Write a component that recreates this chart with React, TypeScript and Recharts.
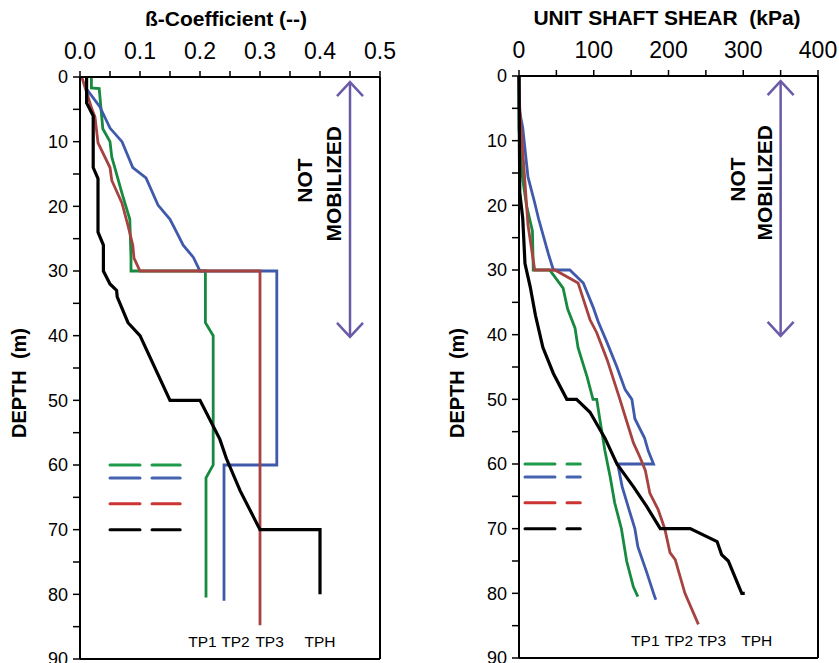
import React from "react";
import {
  LineChart,
  Line,
  XAxis,
  YAxis,
  CartesianGrid,
  ReferenceLine,
  ReferenceDot,
} from "recharts";

type Pt = { d: number; v: number };
const pts = (rows: number[][]): Pt[] => rows.map(([d, v]) => ({ d, v }));

// [depth m, beta]
const tp1Beta = [[0, 0.019], [1.7, 0.019], [1.8, 0.032], [8, 0.038], [10, 0.05], [12.4, 0.053], [14, 0.058], [18, 0.07], [22, 0.083], [28, 0.085], [30, 0.085], [30, 0.209], [38, 0.209], [40, 0.222], [60, 0.222], [62, 0.21], [80.5, 0.21]];
const tp2Beta = [[2, 0.012], [4.6, 0.033], [7.9, 0.05], [10, 0.07], [14, 0.088], [15.6, 0.11], [19.8, 0.13], [22, 0.15], [24, 0.161], [26, 0.172], [27.9, 0.189], [30, 0.2], [30, 0.328], [60, 0.328], [60, 0.24], [81, 0.24]];
const tp3Beta = [[0, 0.003], [5, 0.02], [6.2, 0.025], [10.2, 0.03], [14, 0.05], [16, 0.053], [19.5, 0.07], [23, 0.08], [26, 0.088], [28, 0.09], [30, 0.1], [30, 0.3], [84.8, 0.3]];
const tphBeta = [[0, 0.011], [4, 0.011], [6, 0.022], [14, 0.022], [15.7, 0.03], [24, 0.03], [26, 0.039], [30, 0.039], [32, 0.05], [33, 0.061], [34, 0.062], [38, 0.08], [40, 0.1], [50, 0.15], [50, 0.2], [56, 0.233], [59, 0.244], [64, 0.267], [70, 0.3], [70, 0.4], [80, 0.4]];

// [depth m, unit shaft shear kPa]
const tp1Shear = [[0, 0], [8, 0], [12, 2], [16, 5], [20, 10], [24, 18], [29.5, 19], [30, 19], [30, 41], [32.8, 59], [36, 65], [39, 75], [42, 79], [46.5, 91], [50, 99], [50, 104], [53, 108], [58, 115], [62, 122], [66, 128], [70, 137], [75, 144], [79, 153], [80.5, 159]];
const tp2Shear = [[0, 0], [5, 0], [8, 5], [15.6, 12], [19.6, 21], [22, 26], [27.4, 39], [30, 46], [30, 68], [32, 86], [35.7, 99], [38, 106], [41, 117], [45, 131], [48.5, 142], [50, 151], [53, 155], [56, 168], [58, 173], [60, 180], [60, 132], [63.5, 138], [66.6, 146], [70, 155], [72.8, 159], [76.8, 171], [80, 180], [81, 183]];
const tp3Shear = [[0, 0], [5, 1], [10, 4], [23, 12], [30, 21], [30, 48], [32, 79], [37.7, 95], [39.7, 104], [43.9, 118], [50, 135], [53, 143], [56.7, 153], [59, 162], [61, 169], [64.5, 175], [67, 186], [70, 195], [73.7, 202], [74.8, 209], [80, 222], [84.8, 240]];
const tphShear = [[0, 0], [18, 1], [22, 5], [29, 8], [32.6, 15], [37, 22], [42, 32], [46, 46], [50, 64], [50, 77], [52, 95], [56, 115], [60, 131], [63.5, 153], [66.6, 171], [70, 189], [70, 229], [72, 265], [74, 271], [75, 280], [80, 298], [80, 302]];

const depthTicks = [0, 5, 10, 15, 20, 25, 30, 35, 40, 45, 50, 55, 60, 65, 70, 75, 80, 85, 90];
const depthGrid = [10, 20, 30, 40, 50, 60, 70, 80];
const betaTicks = [0, 0.05, 0.1, 0.15, 0.2, 0.25, 0.3, 0.35, 0.4, 0.45, 0.5];
const betaGrid = [0.1, 0.2, 0.3, 0.4];
const shearTicks = [0, 50, 100, 150, 200, 250, 300, 350, 400];
const shearGrid = [100, 200, 300];

const seriesNames = ["TP1", "TP2", "TP3", "TPH"];
const lineColors = ["#178a40", "#3f5aab", "#a64340", "#000000"];
const keyColors = ["#1f9a4a", "#4563b0", "#cc3333", "#000000"];
const keyDepths = [60, 62, 66, 70];

// name tag positions [value, depth] per panel
const betaTags = [[0.204, 87.3], [0.259, 87.3], [0.316, 87.3], [0.4, 87.3]];
const shearTags = [[169, 87.3], [214, 87.3], [258, 87.3], [318, 87.3]];

type PanelProps = {
  series: number[][][];
  max: number;
  ticks: number[];
  grid: number[];
  fmt: (v: number) => string;
  keyRange: number[];
  arrowAt: number;
  notAt: number;
  mobAt: number;
  tags: number[][];
  width: number;
  marginTop: number;
  marginRight: number;
  marginBottom: number;
  yWidth: number;
};

const arrowHead = (props: any) => {
  const { cx, cy, index } = props;
  const dir = index === 0 ? 1 : -1;
  return (
    <path
      key={`ah-${index}`}
      d={`M${cx - 13},${cy + 14 * dir} L${cx},${cy} L${cx + 13},${cy + 14 * dir}`}
      fill="none"
      stroke="#6a5aa8"
      strokeWidth={2.5}
    />
  );
};

const Panel = (p: PanelProps) => {
  const lines = p.series.map(pts);
  const arrow = pts([[0.8, p.arrowAt], [40.2, p.arrowAt]]);
  return (
    <LineChart
      width={p.width}
      height={663}
      layout="vertical"
      margin={{ top: p.marginTop, right: p.marginRight, bottom: p.marginBottom, left: 0 }}
    >
      <XAxis xAxisId="g" type="number" domain={[0, p.max]} ticks={p.grid} hide />
      <YAxis yAxisId="g" type="number" domain={[0, 90]} ticks={depthGrid} hide />
      <CartesianGrid xAxisId="g" yAxisId="g" stroke="#c4c4c4" strokeWidth={1.5} />
      <XAxis
        type="number"
        orientation="top"
        domain={[0, p.max]}
        ticks={p.ticks}
        tickFormatter={p.fmt}
        height={30}
        tickSize={6}
        tickMargin={12}
        interval={0}
        axisLine={{ stroke: "#000", strokeWidth: 2 }}
        tickLine={{ stroke: "#000", strokeWidth: 1.5 }}
        tick={{ fill: "#000", fontSize: 23 }}
      />
      <YAxis
        type="number"
        dataKey="d"
        domain={[0, 90]}
        ticks={depthTicks}
        tickFormatter={(v: number) => (v % 10 === 0 ? String(v) : "")}
        width={p.yWidth}
        tickSize={7}
        tickMargin={5}
        interval={0}
        axisLine={{ stroke: "#000", strokeWidth: 2 }}
        tickLine={{ stroke: "#000", strokeWidth: 1.5 }}
        tick={{ fill: "#000", fontSize: 18 }}
      />
      <ReferenceLine x={p.max} stroke="#000" strokeWidth={2} />
      <ReferenceLine y={90} stroke="#000" strokeWidth={2} />
      {keyDepths.map((d, i) => (
        <Line
          key={`k${i}`}
          data={pts([[d, p.keyRange[0]], [d, p.keyRange[1]]])}
          dataKey="v"
          stroke={keyColors[i]}
          strokeWidth={3}
          strokeDasharray="30 12"
          strokeLinecap="round"
          dot={false}
          isAnimationActive={false}
        />
      ))}
      {lines.map((data, i) => (
        <Line
          key={seriesNames[i]}
          name={seriesNames[i]}
          data={data}
          dataKey="v"
          stroke={lineColors[i]}
          strokeWidth={i === 3 ? 3.2 : 2.8}
          dot={false}
          isAnimationActive={false}
        />
      ))}
      <Line
        data={arrow}
        dataKey="v"
        stroke="#6a5aa8"
        strokeWidth={2.5}
        dot={arrowHead}
        isAnimationActive={false}
      />
      {p.tags.map(([v, d], i) => (
        <ReferenceDot
          key={`t${i}`}
          x={v}
          y={d}
          r={0}
          fill="none"
          stroke="none"
          label={{ value: seriesNames[i], position: "center", fontSize: 15.5, fill: "#000" }}
        />
      ))}
      <ReferenceDot
        x={p.notAt}
        y={16}
        r={0}
        fill="none"
        stroke="none"
        label={{ value: "NOT", position: "center", angle: -90, fontSize: 21, fontWeight: "bold", fill: "#000" }}
      />
      <ReferenceDot
        x={p.mobAt}
        y={16.5}
        r={0}
        fill="none"
        stroke="none"
        label={{ value: "MOBILIZED", position: "center", angle: -90, fontSize: 21, fontWeight: "bold", fill: "#000" }}
      />
    </LineChart>
  );
};

const abs = (left: number, top: number): React.CSSProperties => ({
  position: "absolute",
  left,
  top,
});

export default function App() {
  return (
    <div
      style={{
        position: "absolute",
        left: 0,
        top: 0,
        width: 839,
        height: 663,
        background: "#fff",
        fontFamily: "'Liberation Sans', Arial, sans-serif",
        overflow: "hidden",
      }}
    >
      <div style={abs(0, 0)}>
        <Panel
          series={[tp1Beta, tp2Beta, tp3Beta, tphBeta]}
          max={0.5}
          ticks={betaTicks}
          grid={betaGrid}
          fmt={(v: number) => (Math.round(v * 100) % 10 === 0 ? v.toFixed(1) : "")}
          keyRange={[0.05, 0.167]}
          arrowAt={0.45}
          notAt={0.375}
          mobAt={0.422}
          tags={betaTags}
          width={420}
          marginTop={47}
          marginRight={40}
          marginBottom={4}
          yWidth={80}
        />
      </div>
      <div style={abs(420, 0)}>
        <Panel
          series={[tp1Shear, tp2Shear, tp3Shear, tphShear]}
          max={400}
          ticks={shearTicks}
          grid={shearGrid}
          fmt={(v: number) => (v % 100 === 0 ? String(v) : "")}
          keyRange={[8, 82]}
          arrowAt={350}
          notAt={292}
          mobAt={329}
          tags={shearTags}
          width={419}
          marginTop={46}
          marginRight={21}
          marginBottom={5}
          yWidth={99}
        />
      </div>
      <div style={{ ...abs(0, 7), width: 452, textAlign: "center", fontWeight: "bold", fontSize: 21 }}>
        ß-Coefficient (--)
      </div>
      <div style={{ ...abs(460, 6), width: 414, textAlign: "center", fontWeight: "bold", fontSize: 21, whiteSpace: "pre" }}>
        {"UNIT SHAFT SHEAR  (kPa)"}
      </div>
      <div
        style={{
          ...abs(19, 383),
          transform: "translate(-50%, -50%) rotate(-90deg)",
          fontWeight: "bold",
          fontSize: 20,
          whiteSpace: "pre",
        }}
      >
        {"DEPTH  (m)"}
      </div>
      <div
        style={{
          ...abs(457, 383),
          transform: "translate(-50%, -50%) rotate(-90deg)",
          fontWeight: "bold",
          fontSize: 20,
          whiteSpace: "pre",
        }}
      >
        {"DEPTH  (m)"}
      </div>
    </div>
  );
}
